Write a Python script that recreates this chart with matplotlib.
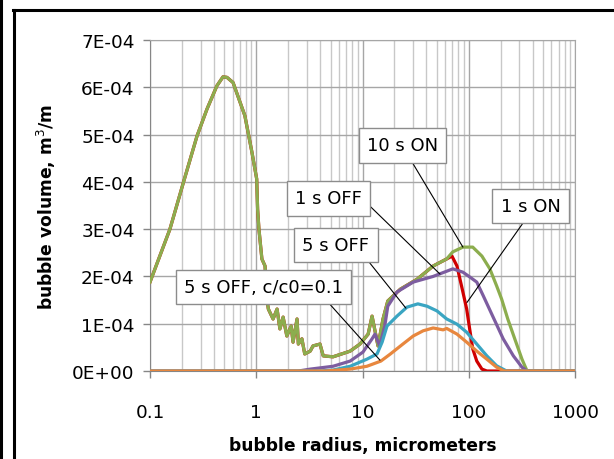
import numpy as np
import matplotlib
matplotlib.use("Agg")
import matplotlib.pyplot as plt
from matplotlib.lines import Line2D
from matplotlib.ticker import LogLocator, FixedLocator, NullFormatter

# --- data (x in micrometers, y in 1E-4 m^3/m) ---
# 10 s ON (green) - includes the big peak below 1 micrometer
x_10on = [0.1, 0.154, 0.204, 0.277, 0.344, 0.426, 0.486, 0.53, 0.605, 0.781, 0.91, 1.01,
          1.03, 1.06, 1.13, 1.21, 1.26, 1.30, 1.44, 1.57, 1.67, 1.79, 1.94, 2.13,
          2.22, 2.42, 2.49, 2.69, 2.86, 3.22, 3.42, 3.98, 4.27, 5.28, 7.65, 9.47,
          11.3, 12.3, 14.0, 15.6, 17.3, 22.7, 32.6, 46.2, 62.0, 70.8, 88.1, 109,
          133, 158, 183, 204, 233, 271, 317, 354, 1000]
y_10on = [1.88, 3.0, 3.95, 4.97, 5.54, 6.03, 6.22, 6.21, 6.1, 5.4, 4.63, 4.06,
          3.42, 3.0, 2.37, 2.22, 1.52, 1.31, 1.10, 1.31, 0.89, 1.14, 0.74, 0.95,
          0.61, 1.10, 0.57, 0.68, 0.36, 0.42, 0.53, 0.57, 0.32, 0.30, 0.42, 0.57,
          0.78, 1.16, 0.53, 1.10, 1.48, 1.73, 1.94, 2.22, 2.37, 2.52, 2.62, 2.62,
          2.43, 2.16, 1.80, 1.52, 1.10, 0.68, 0.25, 0.0, 0.0]

# 1 s ON (red) - follows 10 s ON up to ~60 micrometers, then its own tail
red_split = 62.0
x_1on_tail = [69.5, 77.5, 88.1, 95.6, 102, 109, 119, 133, 148, 1000]
y_1on_tail = [2.43, 2.22, 1.67, 1.31, 0.89, 0.47, 0.21, 0.04, 0.0, 0.0]

# 1 s OFF (purple)
x_1off = [0.1, 2.5, 3.22, 5.28, 7.65, 10.1, 12.3, 13.1, 14.5, 16.2, 17.3, 21.1,
          30.0, 46.2, 62.0, 70.8, 88.1, 102, 119, 137, 168, 211, 263, 317, 354, 1000]
y_1off = [0.0, 0.0, 0.04, 0.10, 0.21, 0.40, 0.68, 0.78, 0.53, 0.95, 1.37, 1.67,
          1.88, 2.00, 2.11, 2.16, 2.09, 1.99, 1.88, 1.59, 1.16, 0.68, 0.32, 0.08, 0.0, 0.0]

# 5 s OFF (cyan)
x_5off = [0.1, 4.0, 5.28, 7.65, 11.0, 13.7, 15.3, 17.0, 21.1, 26.2, 33.2, 40.5,
          50.3, 62.0, 77.5, 95.6, 119, 148, 183, 227, 1000]
y_5off = [0.0, 0.0, 0.02, 0.10, 0.25, 0.36, 0.61, 0.95, 1.16, 1.35, 1.42, 1.37,
          1.27, 1.10, 0.99, 0.82, 0.57, 0.32, 0.11, 0.0, 0.0]

# 5 s OFF, c/c0=0.1 (orange)
x_5off01 = [0.1, 4.5, 7.65, 11.0, 14.9, 18.3, 24.0, 30.0, 37.2, 46.2, 57.4, 62.0,
            77.5, 95.6, 119, 148, 183, 215, 1000]
y_5off01 = [0.0, 0.0, 0.04, 0.10, 0.21, 0.36, 0.57, 0.74, 0.85, 0.91, 0.87, 0.90,
            0.78, 0.61, 0.42, 0.25, 0.08, 0.0, 0.0]

yticks = [0, 1, 2, 3, 4, 5, 6, 7]
ytick_labels = ["0E+00", "1E-04", "2E-04", "3E-04", "4E-04", "5E-04", "6E-04", "7E-04"]
xticks = [0.1, 1, 10, 100, 1000]
xtick_labels = ["0.1", "1", "10", "100", "1000"]

# label text, box centre (x, y) and the point on the curve it points to
notes = [
    ("10 s ON", (23.8, 4.77), (88.1, 2.62), (0.57, 0.0)),
    ("1 s ON", (381, 3.49), (96.3, 1.45), (0.47, 0.0)),
    ("1 s OFF", (4.79, 3.65), (53.6, 2.05), (1.0, 0.5)),
    ("5 s OFF", (5.63, 2.66), (25.6, 1.33), (0.9, 0.0)),
    ("5 s OFF, c/c0=0.1", (1.17, 1.78), (14.6, 0.23), (0.87, 0.0)),
]

# red series: shared part with green, then its own fall
x_1on = [x for x in x_10on if x <= red_split] + x_1on_tail
y_1on = [y for x, y in zip(x_10on, y_10on) if x <= red_split] + y_1on_tail

scale = 1e-4
fig = plt.figure(figsize=(6.14, 4.6), dpi=100)
ax = fig.add_axes([150 / 614, 1 - 372 / 460, 425 / 614, 331 / 460])

lw = 2.3
ax.plot(x_1on, np.array(y_1on) * scale, color="#D00000", lw=lw, zorder=3)
ax.plot(x_10on, np.array(y_10on) * scale, color="#8CAD4E", lw=lw, zorder=4)
ax.plot(x_1off, np.array(y_1off) * scale, color="#7D5DA0", lw=lw, zorder=5)
ax.plot(x_5off, np.array(y_5off) * scale, color="#3AA5C2", lw=lw, zorder=6)
ax.plot(x_5off01, np.array(y_5off01) * scale, color="#E8873E", lw=lw, zorder=7)

ax.set_xscale("log")
ax.set_xlim(0.1, 1000)
ax.set_ylim(0, 7 * scale)

ax.xaxis.set_major_locator(FixedLocator(xticks))
ax.set_xticklabels(xtick_labels)
ax.xaxis.set_minor_locator(LogLocator(base=10, subs=np.arange(2, 10)))
ax.xaxis.set_minor_formatter(NullFormatter())
ax.set_yticks([v * scale for v in yticks])
ax.set_yticklabels(ytick_labels)

ax.grid(True, which="major", color="#A6A6A6", lw=1.0, zorder=0)
ax.grid(True, which="minor", axis="x", color="#C8C8C8", lw=1.0, zorder=0)
ax.set_axisbelow(True)

ax.tick_params(axis="both", which="major", direction="out", length=5, width=1,
               color="#868686", labelsize=13.3, pad=6)
ax.tick_params(axis="x", which="minor", length=0)
ax.tick_params(axis="x", which="major", pad=18)

for side in ["left", "bottom"]:
    ax.spines[side].set_color("#868686")
for side in ["top", "right"]:
    ax.spines[side].set_color("#A6A6A6")

ax.set_xlabel("bubble radius, micrometers", fontsize=12.3, fontweight="bold", labelpad=11)
ax.set_ylabel("bubble volume, m$^3$/m", fontsize=12.3, fontweight="bold", labelpad=10)

for text, xy_text, xy, rel in notes:
    ax.annotate(text, xy=(xy[0], xy[1] * scale),
                xytext=(xy_text[0], xy_text[1] * scale),
                ha="center", va="center", fontsize=13, zorder=10,
                bbox=dict(boxstyle="square,pad=0.45", fc="white", ec="#8C8C8C", lw=1),
                arrowprops=dict(arrowstyle="-", color="black", lw=0.8,
                                relpos=rel, shrinkA=0, shrinkB=0))

# picture frame lines around the chart
fig.add_artist(Line2D([1.5 / 614, 1.5 / 614], [0, 1], color="black", lw=2.2))
fig.add_artist(Line2D([13.5 / 614, 13.5 / 614], [0, 1 - 10.5 / 460], color="black", lw=2.2))
fig.add_artist(Line2D([12.5 / 614, 1], [1 - 10.5 / 460, 1 - 10.5 / 460], color="black", lw=2.2))

fig.savefig("out.png", dpi=100)
